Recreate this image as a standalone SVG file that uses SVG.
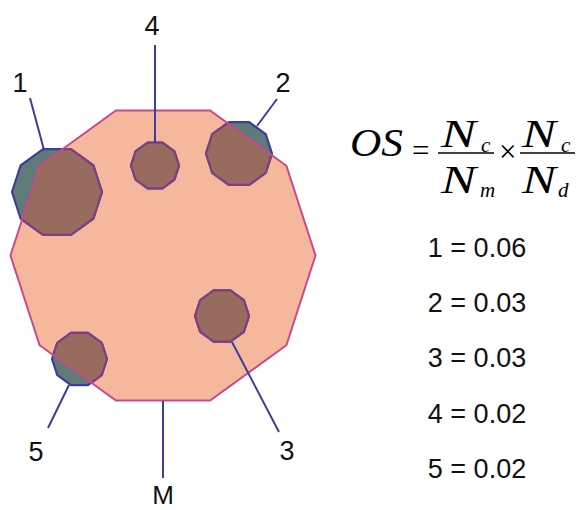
<svg xmlns="http://www.w3.org/2000/svg" xmlns:xlink="http://www.w3.org/1999/xlink" width="578" height="510" viewBox="0 0 578 510">
<style>
.mfill{fill:#F5B89D;stroke:none}
.mstroke{fill:none;stroke:#C9488E;stroke-width:2}
.out{fill:#5F7A77;stroke:#3D3D9B;stroke-width:2.2;stroke-linejoin:round}
.in{fill:#976B5E;stroke:#7F3F80;stroke-width:2.2;stroke-linejoin:round}
.lead{stroke:#3D3D9B;stroke-width:2;fill:none}
.lbl{font-family:"Liberation Sans",Arial,sans-serif;font-size:27px;fill:#111;text-anchor:middle}
.val{font-family:"Liberation Sans",Arial,sans-serif;font-size:27px;fill:#111;text-anchor:middle}
.eq{font-family:"Liberation Serif","Times New Roman",serif;font-style:italic;fill:#000}
.op{font-family:"Liberation Serif","Times New Roman",serif;fill:#000}
</style>
<defs>
<polygon id="M" points="315.5,255.5 286.4,345.2 210.1,400.5 115.9,400.5 39.6,345.2 10.5,255.5 39.6,165.8 115.9,110.5 210.1,110.5 286.4,165.8"/>
<clipPath id="clipM"><use xlink:href="#M"/></clipPath>
<polygon id="p1" points="102,192 93.4,218.5 70.9,234.8 43.1,234.8 20.6,218.5 12,192 20.6,165.5 43.1,149.2 70.9,149.2 93.4,165.5"/>
<polygon id="p2" points="272,153.5 265.7,172.9 249.2,184.9 228.8,184.9 212.3,172.9 206,153.5 212.3,134.1 228.8,122.1 249.2,122.1 265.7,134.1"/>
<polygon id="p3" points="249,316 243.8,331.9 230.3,341.7 213.7,341.7 200.2,331.9 195,316 200.2,300.1 213.7,290.3 230.3,290.3 243.8,300.1"/>
<polygon id="p4" points="179,165.5 174.4,179.6 162.4,188.3 147.6,188.3 135.6,179.6 131,165.5 135.6,151.4 147.6,142.7 162.4,142.7 174.4,151.4"/>
<polygon id="p5" points="107,359 101.7,375.2 88,385.2 71,385.2 57.3,375.2 52,359 57.3,342.8 71,332.8 88,332.8 101.7,342.8"/>
</defs>
<rect width="578" height="510" fill="#fff"/>
<g id="nodeM">
<use xlink:href="#M" class="mfill"/>
</g>
<g id="node1"><use xlink:href="#p1" class="out"/><use xlink:href="#p1" class="in" clip-path="url(#clipM)"/></g>
<g id="node2"><use xlink:href="#p2" class="out"/><use xlink:href="#p2" class="in" clip-path="url(#clipM)"/></g>
<g id="node3"><use xlink:href="#p3" class="out"/><use xlink:href="#p3" class="in" clip-path="url(#clipM)"/></g>
<g id="node4"><use xlink:href="#p4" class="out"/><use xlink:href="#p4" class="in" clip-path="url(#clipM)"/></g>
<g id="node5"><use xlink:href="#p5" class="out"/><use xlink:href="#p5" class="in" clip-path="url(#clipM)"/></g>
<g id="nodeMoutline"><use xlink:href="#M" class="mstroke"/></g>
<g id="connectors">
<line class="lead" x1="44" y1="150" x2="30" y2="98"/>
<line class="lead" x1="257" y1="126" x2="277" y2="99"/>
<line class="lead" x1="232" y1="342" x2="279" y2="432"/>
<line class="lead" x1="155" y1="45" x2="155" y2="143"/>
<line class="lead" x1="69" y1="385" x2="48" y2="428"/>
<line class="lead" x1="163" y1="401" x2="163" y2="478"/>
</g>
<g id="labels">
<text class="lbl" x="20" y="92">1</text>
<text class="lbl" x="283" y="92">2</text>
<text class="lbl" x="287" y="460">3</text>
<text class="lbl" x="152" y="35">4</text>
<text class="lbl" x="36" y="461">5</text>
<text class="lbl" x="163" y="504" style="font-size:26px">M</text>
</g>
<g id="formula">
<text class="eq" x="350" y="156" font-size="40" textLength="53" lengthAdjust="spacingAndGlyphs">OS</text>
<text class="op" x="412" y="161" font-size="31">=</text>
<line x1="438" y1="153" x2="494" y2="153" stroke="#000" stroke-width="1.6"/>
<text class="eq" x="441" y="147" font-size="39" textLength="35" lengthAdjust="spacingAndGlyphs">N</text>
<text class="eq" x="481" y="152" font-size="21">c</text>
<text class="eq" x="441" y="193" font-size="39" textLength="35" lengthAdjust="spacingAndGlyphs">N</text>
<text class="eq" x="480" y="197" font-size="21">m</text>
<text class="op" x="499" y="162" font-size="31">×</text>
<line x1="520" y1="153" x2="575" y2="153" stroke="#000" stroke-width="1.6"/>
<text class="eq" x="522" y="147" font-size="39" textLength="34" lengthAdjust="spacingAndGlyphs">N</text>
<text class="eq" x="561" y="152" font-size="21">c</text>
<text class="eq" x="522" y="193" font-size="39" textLength="34" lengthAdjust="spacingAndGlyphs">N</text>
<text class="eq" x="558" y="197" font-size="21">d</text>
</g>
<g id="values">
<text class="val" x="477" y="257">1 = 0.06</text>
<text class="val" x="477" y="312">2 = 0.03</text>
<text class="val" x="477" y="367">3 = 0.03</text>
<text class="val" x="477" y="423">4 = 0.02</text>
<text class="val" x="477" y="478">5 = 0.02</text>
</g>
</svg>
